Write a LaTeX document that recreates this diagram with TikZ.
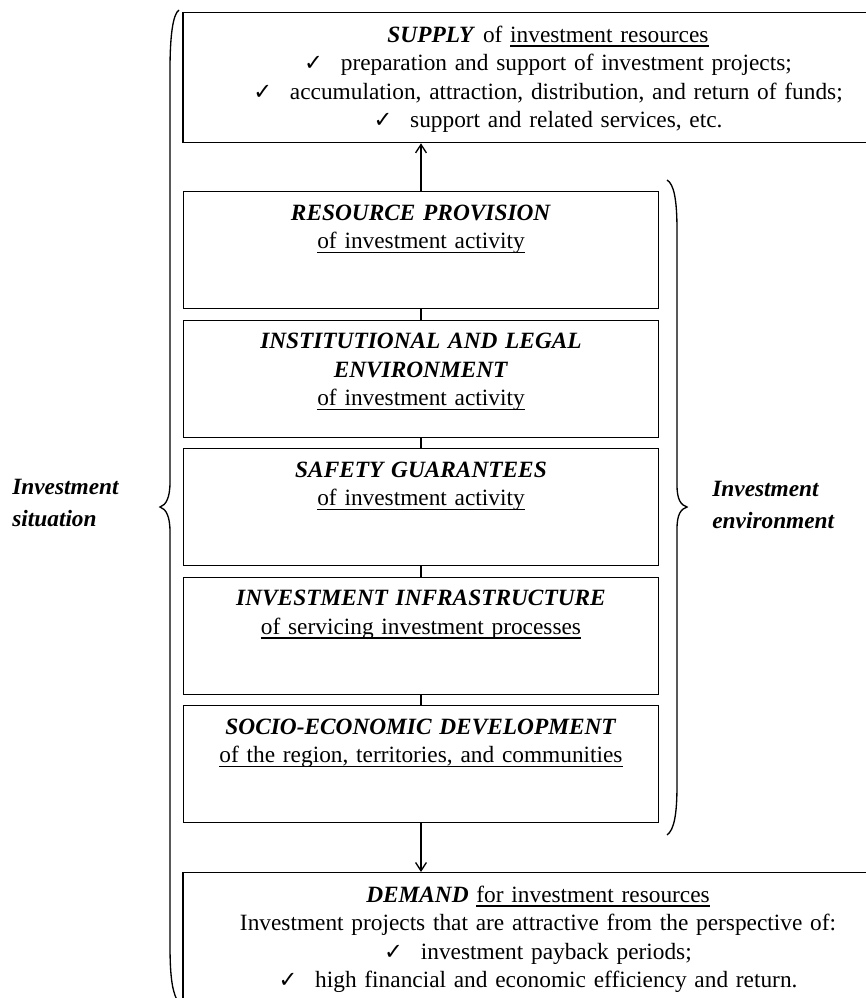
\documentclass[tikz,border=0pt]{standalone}
\usepackage{fontspec}
\setmainfont{Liberation Serif}
\newfontfamily\symfont{DejaVu Sans}
\usetikzlibrary{arrows.meta}
\newcommand\fs{\fontsize{14}{17}\selectfont}
\newcommand\bi[1]{\textbf{\textit{#1}}}
\newcommand\ul[1]{\leavevmode\setbox0\hbox{#1}\rlap{\rule[-2.6pt]{\wd0}{0.8pt}}\box0}
\newcommand\chk{\makebox[22pt][l]{\symfont\fontsize{13.5}{13.5}\selectfont ✓}}
\tikzset{
  box/.style={draw, line width=0.8pt, anchor=north, inner sep=0pt,
    minimum width=285pt, minimum height=70.2pt},
  bigbox/.style={box, minimum width=438pt},
  lbl/.style={anchor=north, align=center, inner sep=0pt, font=\fs, text width=280pt},
  biglbl/.style={lbl, text width=430pt},
  side/.style={anchor=west, align=left, inner sep=0pt,
    font=\fontsize{14}{19}\selectfont\bfseries\itshape},
  brc/.style={line width=0.8pt},
  >={Straight Barb[length=5pt,width=6.5pt]},
}
\begin{document}
\begin{tikzpicture}[x=0.6pt, y=-0.6pt]
  \clip (0,0) rectangle (866,998);
  % supply (top) and demand (bottom), cut off at the page edge
  \node[bigbox, minimum height=78pt] (supply) at (548,12) {};
  \node[biglbl] (supply-t) at ([yshift=-6.1pt]supply.north) {\strut\bi{SUPPLY} of \ul{investment resources}\\
    \chk preparation and support of investment projects;\\
    \chk accumulation, attraction, distribution, and return of funds;\\
    \chk support and related services, etc.};
  \node[bigbox, minimum height=100pt] (demand) at (548,872) {};
  \node[biglbl] (demand-t) at ([xshift=-6pt,yshift=-6.1pt]demand.north) {\strut\bi{DEMAND} \ul{for investment resources}\\
    Investment projects that are attractive from the perspective of:\\
    \chk investment payback periods;\\
    \chk high financial and economic efficiency and return.};
  % investment environment
  \foreach \i/\y/\t/\s in {
    1/191/{\bi{RESOURCE PROVISION}}/{of investment activity},
    2/319.5/{\bi{INSTITUTIONAL AND LEGAL}\\\bi{ENVIRONMENT}}/{of investment activity},
    3/448/{\bi{SAFETY GUARANTEES}}/{of investment activity},
    4/576.5/{\bi{INVESTMENT INFRASTRUCTURE}}/{of servicing investment processes},
    5/705/{\bi{SOCIO-ECONOMIC DEVELOPMENT}}/{of the region, territories, and communities}}{
    \node[box] (B\i) at (421,\y) {};
    \node[lbl] (T\i) at ([yshift=-5.5pt]B\i.north) {\strut\t\\\ul{\s}};
  }
  \foreach \i [count=\j from 2] in {1,...,4}
    \draw[line width=0.8pt] (B\i.south) -- (B\j.north);
  \draw[line width=0.8pt, ->] (B1.north) -- (B1.north |- supply.south);
  \draw[line width=0.8pt, ->] (B5.south) -- (B5.south |- demand.north);
  % braces
  \draw[brc] (179,10) .. controls (173,14) and (170,35) .. (170,70) -- (170,482)
    .. controls (170,498) and (166,505) .. (160,507)
    .. controls (166,509) and (170,516) .. (170,532) -- (170,945)
    .. controls (170,975) and (172,990) .. (177,1000);
  \draw[brc] (667,180) .. controls (674,184) and (677,200) .. (677,230) -- (677,485)
    .. controls (677,500) and (681,505) .. (687,507)
    .. controls (681,509) and (677,514) .. (677,529) -- (677,785)
    .. controls (677,815) and (674,830) .. (667,835);
  \node[side] (situation) at (12,503) {Investment\\situation};
  \node[side] (environment) at (712,505) {Investment\\environment};
\end{tikzpicture}
\end{document}
